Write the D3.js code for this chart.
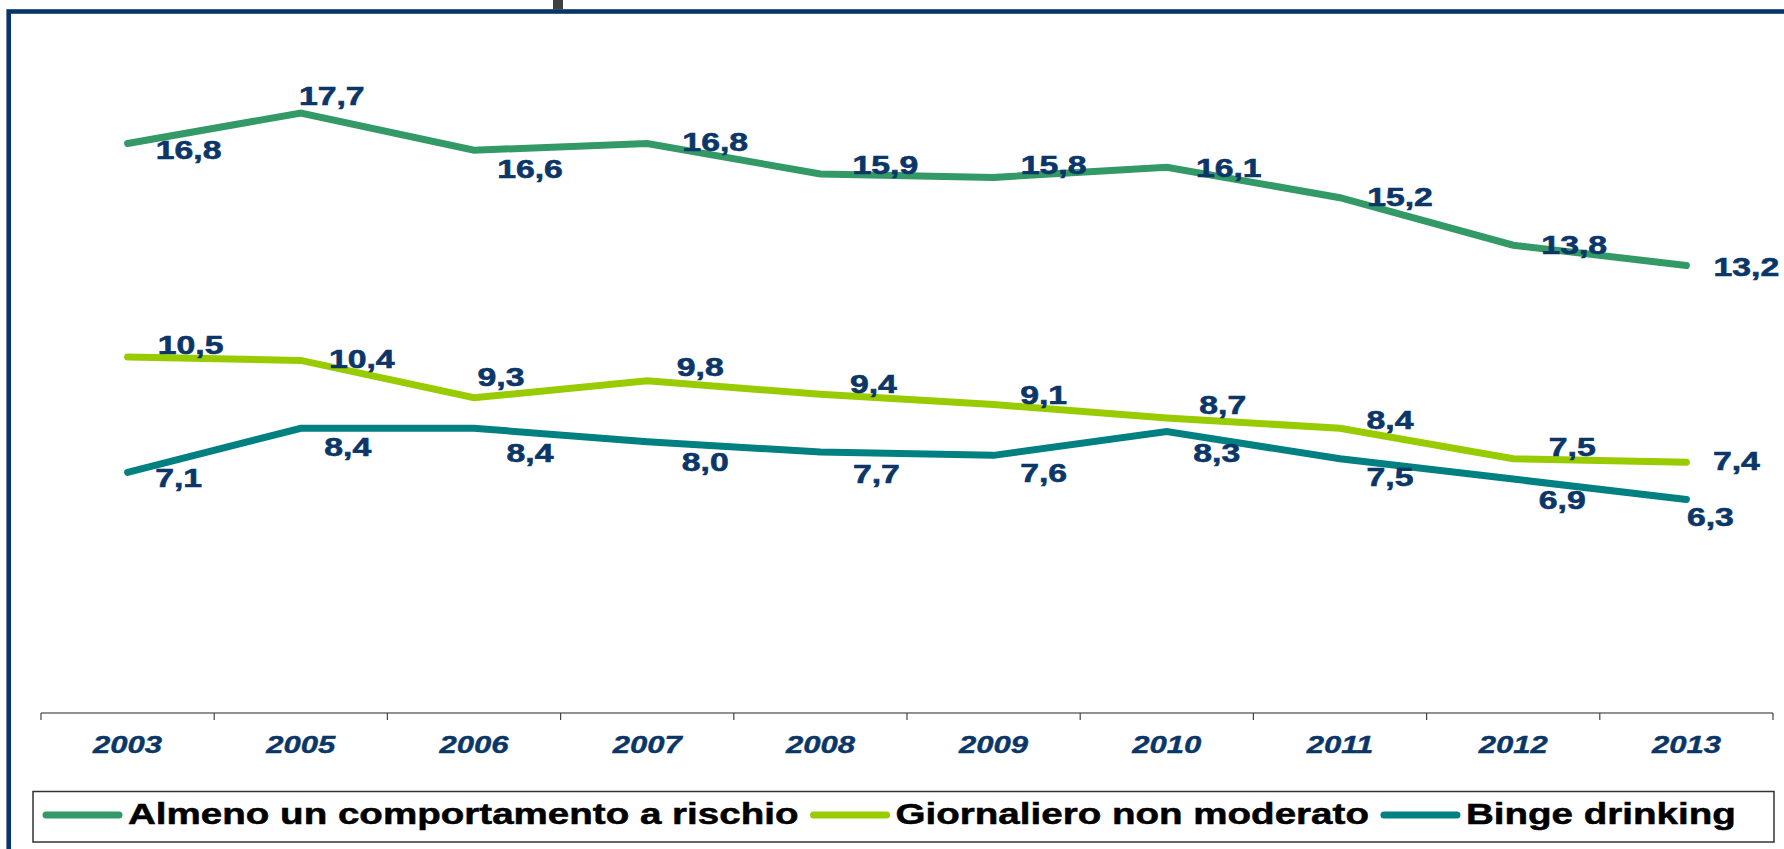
<!DOCTYPE html>
<html>
<head>
  <meta charset="utf-8">
  <title>Consumo a rischio</title>
  <script src="https://d3js.org/d3.v7.min.js"></script>
  <style>
    body { margin: 0; background: #fff; }
    text { font-family: "Liberation Sans", Arial, sans-serif; font-weight: bold; }
  </style>
</head>
<body>
<div id="chart"></div>
<script>
// data
const years = ["2003", "2005", "2006", "2007", "2008", "2009", "2010", "2011", "2012", "2013"];
const seriesNames = ["Almeno un comportamento a rischio", "Giornaliero non moderato", "Binge drinking"];
const almeno = [16.8, 17.7, 16.6, 16.8, 15.9, 15.8, 16.1, 15.2, 13.8, 13.2];
const giornaliero = [10.5, 10.4, 9.3, 9.8, 9.4, 9.1, 8.7, 8.4, 7.5, 7.4];
const binge = [7.1, 8.4, 8.4, 8.0, 7.7, 7.6, 8.3, 7.5, 6.9, 6.3];

// label nudges (layout only), relative to the point
const labelDx = [
  [61, 31, 56, 68, 65, 60, 62, 60, 61, 60],
  [63, 61, 27, 53, 53, 50, 56, 50, 59, 50],
  [51, 47, 56, 58, 56, 50, 50, 50, 49, 24]
];
const labelDy = [
  [7, -17, 19, -1, -9, -12, 1, -1, 0, 1],
  [-12, -1, -21, -14, -10, -10, -13, -8, -12, -1],
  [6, 19, 25, 20, 22, 18, 21, 18, 21, 18]
];

const colors = ["#339966", "#99cc00", "#008080"];
const navy = "#0b3668";
const stretch = 1.35;   // text in the picture is drawn wide

const width = 1784, height = 849;
const svg = d3.select("#chart").append("svg")
  .attr("width", width)
  .attr("height", height);

// frame
svg.append("rect")
  .attr("x", 8.7).attr("y", 11.5)
  .attr("width", width).attr("height", height)
  .attr("fill", "none")
  .attr("stroke", "#063669")
  .attr("stroke-width", 4.6);
svg.append("rect")
  .attr("x", 553).attr("y", 0)
  .attr("width", 10).attr("height", 9.5)
  .attr("fill", "#404040");

const x = d3.scaleBand().domain(years).range([41, 1773]).padding(0);
const y = d3.scaleLinear().domain([0, 20]).range([713, 35]);
const cx = d => x(d) + x.bandwidth() / 2;

// axis line + boundary ticks
svg.append("line")
  .attr("x1", x.range()[0]).attr("x2", x.range()[1])
  .attr("y1", y(0)).attr("y2", y(0))
  .attr("stroke", "#222").attr("stroke-width", 1.2);
svg.selectAll(".tick-mark")
  .data(years.concat(["end"]))
  .enter().append("line")
  .attr("class", "tick-mark")
  .attr("x1", (d, i) => x.range()[0] + x.step() * i)
  .attr("x2", (d, i) => x.range()[0] + x.step() * i)
  .attr("y1", y(0)).attr("y2", y(0) + 7)
  .attr("stroke", "#444").attr("stroke-width", 1.2);

svg.selectAll(".year")
  .data(years)
  .enter().append("text")
  .attr("class", "year")
  .attr("transform", d => `translate(${cx(d)},753) scale(${stretch},1)`)
  .attr("text-anchor", "middle")
  .attr("font-size", 23)
  .attr("font-style", "italic")
  .attr("fill", navy)
  .attr("stroke", navy).attr("stroke-width", 0.4)
  .text(d => d);

// lines
const series = [almeno, giornaliero, binge];
const line = d3.line()
  .x((d, i) => cx(years[i]))
  .y(d => y(d));

series.forEach((vals, s) => {
  svg.append("path")
    .datum(vals)
    .attr("d", line)
    .attr("fill", "none")
    .attr("stroke", colors[s])
    .attr("stroke-width", 7)
    .attr("stroke-linecap", "round")
    .attr("stroke-linejoin", "miter");
});

const fmt = v => d3.format(".1f")(v).replace(".", ",");
series.forEach((vals, s) => {
  svg.selectAll(".lbl" + s)
    .data(vals)
    .enter().append("text")
    .attr("class", "lbl" + s)
    .attr("transform", (d, i) =>
      `translate(${cx(years[i]) + labelDx[s][i]},${y(d) + labelDy[s][i] + 9}) scale(${stretch},1)`)
    .attr("text-anchor", "middle")
    .attr("font-size", 25)
    .attr("fill", navy)
    .attr("stroke", navy).attr("stroke-width", 0.6)
    .text(d => fmt(d));
});

// legend
svg.append("rect")
  .attr("x", 33).attr("y", 791.5)
  .attr("width", 1741).attr("height", 50.5)
  .attr("fill", "#fff")
  .attr("stroke", "#333").attr("stroke-width", 1.5);

let lx = 43;
seriesNames.forEach((name, s) => {
  svg.append("line")
    .attr("x1", lx + 3).attr("x2", lx + 76)
    .attr("y1", 815).attr("y2", 815)
    .attr("stroke", colors[s])
    .attr("stroke-width", 7)
    .attr("stroke-linecap", "round");
  lx += 85;
  const t = svg.append("text")
    .attr("transform", `translate(${lx},824) scale(1.33,1)`)
    .attr("font-size", 29)
    .attr("fill", "#000")
    .attr("stroke", "#000").attr("stroke-width", 0.5)
    .text(name);
  lx += t.node().getComputedTextLength() * 1.33 + 12;
});
</script>
</body>
</html>
